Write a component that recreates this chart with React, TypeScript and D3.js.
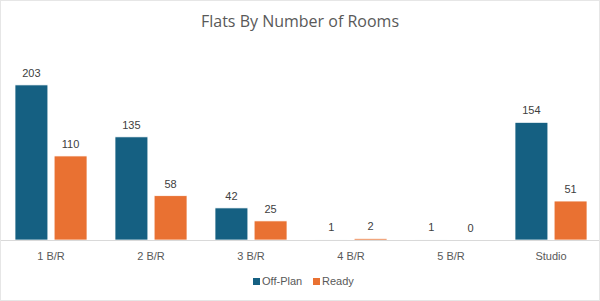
import React, { useEffect, useRef } from "react";
import * as d3 from "d3";

const categories = ["1 B/R", "2 B/R", "3 B/R", "4 B/R", "5 B/R", "Studio"];
const offPlan = [203, 135, 42, 1, 1, 154];
const ready = [110, 58, 25, 2, 0, 51];
const seriesNames = ["Off-Plan", "Ready"];
const colors = ["#156082", "#E97132"];

const W = 600;
const H = 301;

const App = () => {
  const svgRef = useRef<SVGSVGElement>(null);

  useEffect(() => {
    const svg = d3.select(svgRef.current);
    svg.selectAll("*").remove();

    const font = "'Liberation Sans', Arial, sans-serif";

    // outer frame
    svg
      .append("rect")
      .attr("x", 0.5)
      .attr("y", 0.5)
      .attr("width", W - 1)
      .attr("height", H - 1)
      .attr("fill", "#fff")
      .attr("stroke", "#e6e6e6");

    svg
      .append("text")
      .attr("x", W / 2)
      .attr("y", 27)
      .attr("text-anchor", "middle")
      .attr("font-family", "'Open Sans', 'Noto Sans', sans-serif")
      .attr("font-size", 16)
      .attr("fill", "#595959")
      .text("Flats By Number of Rooms");

    const x = d3.scaleBand().domain(categories).range([1, 601]).paddingInner(0).paddingOuter(0);
    const x1 = d3.scaleBand().domain(seriesNames).range([15, 87]).paddingInner(0.16);
    const y = d3.scaleLinear().domain([0, 250]).range([240, 49]);

    const rows = categories.map((c, i) => ({ cat: c, vals: [offPlan[i], ready[i]] }));

    const g = svg.append("g");
    const groups = g
      .selectAll(".grp")
      .data(rows)
      .enter()
      .append("g")
      .attr("transform", (d) => `translate(${x(d.cat)! - 1},0)`);

    groups
      .selectAll("rect")
      .data((d) => d.vals.map((v, j) => ({ v, s: seriesNames[j], j })))
      .enter()
      .append("rect")
      .attr("x", (d) => x1(d.s)!)
      .attr("y", (d) => y(d.v))
      .attr("width", x1.bandwidth())
      .attr("height", (d) => y(0) - y(d.v))
      .attr("fill", (d) => colors[d.j])
      .attr("stroke", "#fff")
      .attr("stroke-width", 0.75);

    groups
      .selectAll("text")
      .data((d) => d.vals.map((v, j) => ({ v, s: seriesNames[j] })))
      .enter()
      .append("text")
      .attr("x", (d) => x1(d.s)! + x1.bandwidth() / 2)
      .attr("y", (d) => y(d.v) - 8)
      .attr("text-anchor", "middle")
      .attr("font-family", font)
      .attr("font-size", 11)
      .attr("fill", "#404040")
      .text((d) => d.v);

    // baseline
    svg
      .append("line")
      .attr("x1", 1)
      .attr("x2", 599)
      .attr("y1", 240.5)
      .attr("y2", 240.5)
      .attr("stroke", "#d9d9d9");

    svg
      .append("g")
      .selectAll("text")
      .data(categories)
      .enter()
      .append("text")
      .attr("x", (d) => x(d)! + x.bandwidth() / 2)
      .attr("y", 260)
      .attr("text-anchor", "middle")
      .attr("font-family", font)
      .attr("font-size", 11)
      .attr("fill", "#595959")
      .text((d) => d);

    // legend
    const legend = svg.append("g");
    const legX = [253, 313];
    seriesNames.forEach((s, i) => {
      legend
        .append("rect")
        .attr("x", legX[i])
        .attr("y", 278)
        .attr("width", 7)
        .attr("height", 7)
        .attr("fill", colors[i]);
      legend
        .append("text")
        .attr("x", legX[i] + 9)
        .attr("y", 285)
        .attr("font-family", font)
        .attr("font-size", 11)
        .attr("fill", "#595959")
        .text(s);
    });
  }, []);

  return (
    <svg
      ref={svgRef}
      width={W}
      height={H}
      style={{ position: "absolute", left: 0, top: 0, display: "block" }}
    ></svg>
  );
};

export default App;
